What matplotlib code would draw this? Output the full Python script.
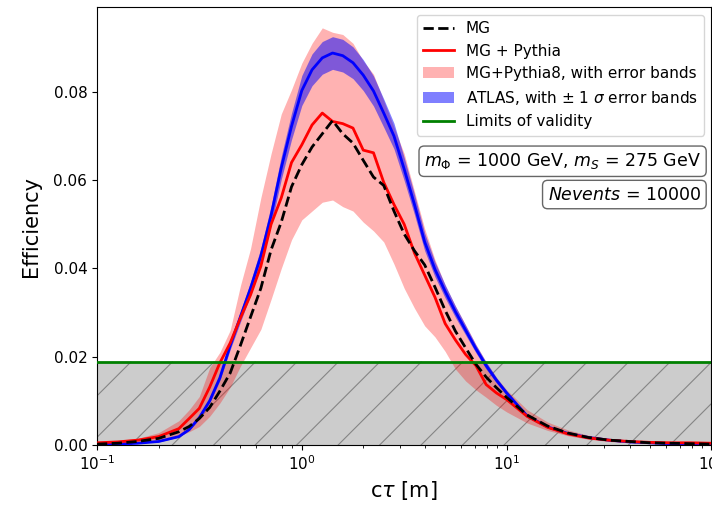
import matplotlib
matplotlib.use('Agg')
import matplotlib.pyplot as plt
import matplotlib.transforms as mtransforms

# c*tau values [m]
ctau = [0.1, 0.126, 0.158, 0.2, 0.251, 0.282, 0.316, 0.355, 0.398, 0.447,
        0.501, 0.562, 0.631, 0.708, 0.794, 0.891, 1.0, 1.122, 1.259, 1.413,
        1.585, 1.778, 1.995, 2.239, 2.512, 2.818, 3.162, 3.548, 3.981, 4.467,
        5.012, 5.623, 6.31, 7.079, 7.943, 8.913, 10.0, 12.59, 15.85, 19.95,
        25.12, 31.62, 39.81, 50.12, 63.1, 79.43, 100.0]

eff_mg = [0.0002, 0.0004, 0.0008, 0.0015, 0.0030, 0.0042, 0.0060, 0.0085, 0.0122, 0.0163,
          0.0225, 0.0290, 0.0355, 0.0442, 0.0505, 0.0585, 0.0635, 0.0675, 0.0705, 0.0735,
          0.0705, 0.0684, 0.0645, 0.0607, 0.0588, 0.0530, 0.0478, 0.0440, 0.0408, 0.0358,
          0.0305, 0.0258, 0.0220, 0.0183, 0.0154, 0.0130, 0.0108, 0.0068, 0.0043, 0.0027,
          0.0017, 0.0011, 0.0008, 0.0005, 0.0004, 0.0003, 0.0002]

eff_py = [0.0005, 0.0007, 0.0011, 0.0019, 0.0037, 0.0060, 0.0083, 0.0131, 0.0186, 0.0231,
          0.0287, 0.0340, 0.0405, 0.0500, 0.0560, 0.0640, 0.0680, 0.0725, 0.0752, 0.0733,
          0.0728, 0.0718, 0.0668, 0.0662, 0.0595, 0.0545, 0.0500, 0.0435, 0.0385, 0.0335,
          0.0275, 0.0238, 0.0205, 0.0180, 0.0137, 0.0118, 0.0103, 0.0065, 0.0040, 0.0025,
          0.0016, 0.0011, 0.0008, 0.0006, 0.0005, 0.0005, 0.0004]

py_hi = [0.0008, 0.0010, 0.0015, 0.0028, 0.0055, 0.0080, 0.0110, 0.0175, 0.0210, 0.0260,
         0.0360, 0.0445, 0.0560, 0.0660, 0.0750, 0.0805, 0.0865, 0.0910, 0.0945, 0.0935,
         0.0930, 0.0910, 0.0870, 0.0840, 0.0780, 0.0720, 0.0660, 0.0575, 0.0490, 0.0420,
         0.0362, 0.0315, 0.0272, 0.0228, 0.0188, 0.0153, 0.0125, 0.0080, 0.0052, 0.0034,
         0.0022, 0.0015, 0.0011, 0.0009, 0.0008, 0.0007, 0.0007]

py_lo = [0.0002, 0.0003, 0.0005, 0.0010, 0.0020, 0.0030, 0.0042, 0.0065, 0.0095, 0.0131,
         0.0178, 0.0220, 0.0262, 0.0330, 0.0400, 0.0465, 0.0510, 0.0530, 0.0550, 0.0555,
         0.0540, 0.0530, 0.0505, 0.0485, 0.0460, 0.0410, 0.0355, 0.0310, 0.0270, 0.0245,
         0.0212, 0.0172, 0.0145, 0.0125, 0.0108, 0.0090, 0.0075, 0.0050, 0.0033, 0.0021,
         0.0013, 0.0008, 0.0005, 0.0003, 0.0002, 0.0002, 0.0001]

eff_atlas = [0.0001, 0.0002, 0.0004, 0.0008, 0.0019, 0.0035, 0.0062, 0.0100, 0.0152, 0.0225,
             0.0290, 0.0355, 0.0428, 0.0520, 0.0628, 0.0722, 0.0803, 0.0850, 0.0877, 0.0888,
             0.0882, 0.0866, 0.0838, 0.0802, 0.0752, 0.0700, 0.0625, 0.0545, 0.0460, 0.0398,
             0.0348, 0.0302, 0.0260, 0.0218, 0.0180, 0.0147, 0.0118, 0.0066, 0.0041, 0.0026,
             0.0017, 0.0011, 0.0007, 0.0005, 0.0003, 0.0002, 0.0001]

atlas_err = [0.0000, 0.0000, 0.0000, 0.0001, 0.0001, 0.0002, 0.0003, 0.0004, 0.0006, 0.0009,
             0.0012, 0.0015, 0.0018, 0.0022, 0.0026, 0.0030, 0.0034, 0.0036, 0.0037, 0.0037,
             0.0037, 0.0036, 0.0035, 0.0034, 0.0032, 0.0029, 0.0026, 0.0023, 0.0020, 0.0017,
             0.0015, 0.0013, 0.0011, 0.0009, 0.0008, 0.0006, 0.0005, 0.0003, 0.0002, 0.0001,
             0.0001, 0.0000, 0.0000, 0.0000, 0.0000, 0.0000, 0.0000]

limit = 0.0188
m_phi = 1000
m_s = 275
nevents = 10000

fig = plt.figure(figsize=(7.12, 5.08), dpi=100)
ax = fig.add_axes([0.1362, 0.124, 0.863, 0.862])
ax.set_xscale('log')
ax.set_xlim(0.1, 100)
ax.set_ylim(0, 0.0992)

# region below the validity limit, grey with wide diagonal hatching
ax.fill_between([0.1, 100], 0, limit, color='grey', alpha=0.4, linewidth=0, zorder=1)
tr = mtransforms.blended_transform_factory(ax.transAxes, ax.transData)
w = (limit / 0.0992 * 438) / 614.5
for k in range(18):
    x0 = -0.08 + k * 0.0675
    ax.plot([x0, x0 + w], [0, limit], color='0.52', lw=0.8, transform=tr, zorder=1.5)

ax.fill_between(ctau, py_lo, py_hi, color='red', alpha=0.3, linewidth=0, zorder=2,
                label='MG+Pythia8, with error bands')
lo = [a - e for a, e in zip(eff_atlas, atlas_err)]
hi = [a + e for a, e in zip(eff_atlas, atlas_err)]
ax.fill_between(ctau, lo, hi, color='blue', alpha=0.5, linewidth=0, zorder=3,
                label=r'ATLAS, with $\pm$ 1 $\sigma$ error bands')
ax.plot(ctau, eff_atlas, color='blue', lw=2, zorder=4)
ax.plot(ctau, eff_py, color='red', lw=2, zorder=5, label='MG + Pythia')
ax.plot(ctau, eff_mg, color='black', ls='--', lw=2, zorder=6, label='MG')
ax.axhline(limit, color='green', lw=2, zorder=7, label='Limits of validity')

h, l = ax.get_legend_handles_labels()
order = ['MG', 'MG + Pythia', 'MG+Pythia8, with error bands',
         r'ATLAS, with $\pm$ 1 $\sigma$ error bands', 'Limits of validity']
hh = [h[l.index(o)] for o in order]
ax.legend(hh, order, loc='upper right', fontsize=11)

ax.text(0.983, 0.648, r'$m_{\Phi}$ = %d GeV, $m_S$ = %d GeV' % (m_phi, m_s),
        transform=ax.transAxes, ha='right', va='center', fontsize=12.5,
        bbox=dict(boxstyle='round', facecolor='white', edgecolor='0.4'), zorder=10)
ax.text(0.983, 0.572, r'$Nevents$ = %d' % nevents,
        transform=ax.transAxes, ha='right', va='center', fontsize=12.5,
        bbox=dict(boxstyle='round', facecolor='white', edgecolor='0.4'), zorder=10)

ax.tick_params(labelsize=11)
ax.set_xlabel(r'c$\tau$ [m]', fontsize=15)
ax.set_ylabel('Efficiency', fontsize=15, labelpad=9)

plt.savefig('out.png', dpi=100)
